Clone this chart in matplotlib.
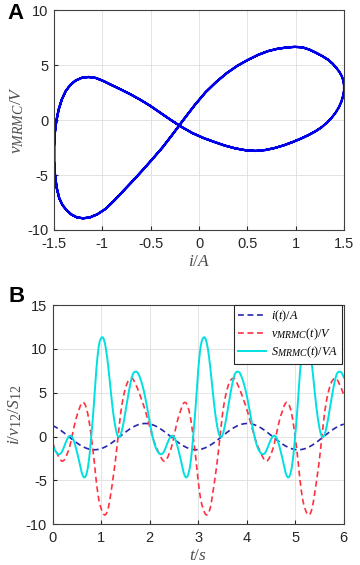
import numpy as np
import matplotlib; matplotlib.use("Agg")
import matplotlib.pyplot as plt
import matplotlib._mathtext as mtext

mtext.SHRINK_FACTOR = 0.8   # MATLAB-style subscripts are only a little smaller

plt.rcParams.update({
    "font.family": ["Liberation Sans", "DejaVu Sans"], "font.size": 10.5,
    "mathtext.fontset": "custom", "mathtext.rm": "Liberation Serif",
    "mathtext.it": "Liberation Serif:italic", "mathtext.bf": "Liberation Serif:bold",
    "axes.linewidth": 0.8, "axes.edgecolor": "0.25",
    "xtick.direction": "in", "ytick.direction": "in",
    "xtick.major.size": 3, "ytick.major.size": 3,
    "xtick.major.pad": 5, "ytick.major.pad": 4,
    "xtick.color": "0.15", "ytick.color": "0.15",
    "grid.color": "0.87", "grid.linewidth": 0.6,
})

t = np.linspace(0, 6, 241)

i_t = [
    1.264, 1.200, 1.130, 1.053, 0.970, 0.882, 0.788, 0.690, 0.588, 0.483, 0.376, 0.266,
    0.157, 0.045, -0.068, -0.180, -0.289, -0.398, -0.506, -0.610, -0.711, -0.808, -0.901, -0.988,
    -1.068, -1.144, -1.214, -1.276, -1.332, -1.380, -1.419, -1.452, -1.476, -1.492, -1.499, -1.499,
    -1.489, -1.472, -1.446, -1.412, -1.370, -1.321, -1.264, -1.200, -1.130, -1.053, -0.970, -0.882,
    -0.788, -0.690, -0.588, -0.486, -0.378, -0.268, -0.157, -0.045, 0.068, 0.180, 0.289, 0.398,
    0.506, 0.610, 0.711, 0.808, 0.901, 0.988, 1.068, 1.144, 1.214, 1.276, 1.332, 1.380,
    1.419, 1.452, 1.476, 1.492, 1.499, 1.499, 1.489, 1.472, 1.446, 1.412, 1.370, 1.321,
    1.264, 1.200, 1.130, 1.053, 0.970, 0.882, 0.788, 0.690, 0.588, 0.483, 0.376, 0.266,
    0.157, 0.045, -0.068, -0.180, -0.289, -0.398, -0.506, -0.610, -0.711, -0.808, -0.901, -0.988,
    -1.068, -1.144, -1.214, -1.276, -1.332, -1.380, -1.419, -1.452, -1.476, -1.492, -1.499, -1.499,
    -1.489, -1.472, -1.446, -1.412, -1.370, -1.321, -1.264, -1.200, -1.130, -1.053, -0.970, -0.882,
    -0.788, -0.690, -0.588, -0.486, -0.378, -0.268, -0.157, -0.045, 0.068, 0.180, 0.289, 0.398,
    0.506, 0.610, 0.711, 0.808, 0.901, 0.988, 1.068, 1.144, 1.214, 1.276, 1.332, 1.380,
    1.419, 1.452, 1.476, 1.492, 1.499, 1.499, 1.489, 1.472, 1.446, 1.412, 1.370, 1.321,
    1.264, 1.200, 1.130, 1.053, 0.970, 0.882, 0.788, 0.690, 0.588, 0.483, 0.376, 0.266,
    0.157, 0.045, -0.068, -0.180, -0.289, -0.398, -0.506, -0.610, -0.711, -0.808, -0.901, -0.988,
    -1.068, -1.144, -1.214, -1.276, -1.332, -1.380, -1.419, -1.452, -1.476, -1.492, -1.499, -1.499,
    -1.489, -1.472, -1.446, -1.412, -1.370, -1.321, -1.264, -1.200, -1.130, -1.053, -0.970, -0.882,
    -0.788, -0.690, -0.588, -0.486, -0.378, -0.268, -0.157, -0.045, 0.068, 0.180, 0.289, 0.398,
    0.506, 0.610, 0.711, 0.808, 0.901, 0.988, 1.068, 1.144, 1.214, 1.276, 1.332, 1.380,
    1.419]

v_t = [
    -0.67, -1.04, -1.37, -1.69, -1.99, -2.28, -2.53, -2.72, -2.81, -2.75, -2.58, -2.32,
    -1.99, -1.63, -1.19, -0.63, -0.01, 0.65, 1.30, 1.86, 2.35, 2.78, 3.17, 3.55,
    3.83, 3.92, 3.84, 3.60, 3.19, 2.62, 1.88, 0.95, -0.10, -1.21, -2.40, -3.74,
    -5.05, -6.17, -7.10, -7.74, -8.20, -8.59, -8.85, -8.94, -8.86, -8.58, -8.10, -7.37,
    -6.50, -5.58, -4.60, -3.59, -2.49, -1.23, 0.08, 1.36, 2.54, 3.49, 4.29, 4.95,
    5.48, 5.93, 6.27, 6.48, 6.60, 6.66, 6.62, 6.40, 6.10, 5.81, 5.50, 5.14,
    4.75, 4.37, 3.98, 3.58, 3.15, 2.69, 2.20, 1.69, 1.17, 0.68, 0.20, -0.25,
    -0.67, -1.04, -1.37, -1.69, -1.99, -2.28, -2.53, -2.72, -2.81, -2.75, -2.58, -2.32,
    -1.99, -1.63, -1.19, -0.63, -0.01, 0.65, 1.30, 1.86, 2.35, 2.78, 3.17, 3.55,
    3.83, 3.92, 3.84, 3.60, 3.19, 2.62, 1.88, 0.95, -0.10, -1.21, -2.40, -3.74,
    -5.05, -6.17, -7.10, -7.74, -8.20, -8.59, -8.85, -8.94, -8.86, -8.58, -8.10, -7.37,
    -6.50, -5.58, -4.60, -3.59, -2.49, -1.23, 0.08, 1.36, 2.54, 3.49, 4.29, 4.95,
    5.48, 5.93, 6.27, 6.48, 6.60, 6.66, 6.62, 6.40, 6.10, 5.81, 5.50, 5.14,
    4.75, 4.37, 3.98, 3.58, 3.15, 2.69, 2.20, 1.69, 1.17, 0.68, 0.20, -0.25,
    -0.67, -1.04, -1.37, -1.69, -1.99, -2.28, -2.53, -2.72, -2.81, -2.75, -2.58, -2.32,
    -1.99, -1.63, -1.19, -0.63, -0.01, 0.65, 1.30, 1.86, 2.35, 2.78, 3.17, 3.55,
    3.83, 3.92, 3.84, 3.60, 3.19, 2.62, 1.88, 0.95, -0.10, -1.21, -2.40, -3.74,
    -5.05, -6.17, -7.10, -7.74, -8.20, -8.59, -8.85, -8.94, -8.86, -8.58, -8.10, -7.37,
    -6.50, -5.58, -4.60, -3.59, -2.49, -1.23, 0.08, 1.36, 2.54, 3.49, 4.29, 4.95,
    5.48, 5.93, 6.27, 6.48, 6.60, 6.66, 6.62, 6.40, 6.10, 5.81, 5.50, 5.14,
    4.75]

s_t = [
    -0.85, -1.25, -1.55, -1.78, -1.93, -2.01, -1.99, -1.88, -1.65, -1.33, -0.97, -0.62,
    -0.31, -0.07, 0.08, 0.11, 0.00, -0.26, -0.66, -1.13, -1.67, -2.25, -2.86, -3.51,
    -4.09, -4.48, -4.66, -4.59, -4.25, -3.62, -2.67, -1.38, 0.15, 1.81, 3.60, 5.61,
    7.52, 9.08, 10.27, 10.93, 11.23, 11.35, 11.19, 10.73, 10.01, 9.03, 7.86, 6.50,
    5.12, 3.85, 2.70, 1.74, 0.94, 0.33, -0.01, -0.06, 0.17, 0.63, 1.24, 1.97,
    2.77, 3.62, 4.46, 5.24, 5.95, 6.58, 7.07, 7.32, 7.41, 7.41, 7.33, 7.09,
    6.74, 6.35, 5.87, 5.34, 4.72, 4.03, 3.28, 2.49, 1.69, 0.96, 0.27, -0.33,
    -0.85, -1.25, -1.55, -1.78, -1.93, -2.01, -1.99, -1.88, -1.65, -1.33, -0.97, -0.62,
    -0.31, -0.07, 0.08, 0.11, 0.00, -0.26, -0.66, -1.13, -1.67, -2.25, -2.86, -3.51,
    -4.09, -4.48, -4.66, -4.59, -4.25, -3.62, -2.67, -1.38, 0.15, 1.81, 3.60, 5.61,
    7.52, 9.08, 10.27, 10.93, 11.23, 11.35, 11.19, 10.73, 10.01, 9.03, 7.86, 6.50,
    5.12, 3.85, 2.70, 1.74, 0.94, 0.33, -0.01, -0.06, 0.17, 0.63, 1.24, 1.97,
    2.77, 3.62, 4.46, 5.24, 5.95, 6.58, 7.07, 7.32, 7.41, 7.41, 7.33, 7.09,
    6.74, 6.35, 5.87, 5.34, 4.72, 4.03, 3.28, 2.49, 1.69, 0.96, 0.27, -0.33,
    -0.85, -1.25, -1.55, -1.78, -1.93, -2.01, -1.99, -1.88, -1.65, -1.33, -0.97, -0.62,
    -0.31, -0.07, 0.08, 0.11, 0.00, -0.26, -0.66, -1.13, -1.67, -2.25, -2.86, -3.51,
    -4.09, -4.48, -4.66, -4.59, -4.25, -3.62, -2.67, -1.38, 0.15, 1.81, 3.60, 5.61,
    7.52, 9.08, 10.27, 10.93, 11.23, 11.35, 11.19, 10.73, 10.01, 9.03, 7.86, 6.50,
    5.12, 3.85, 2.70, 1.74, 0.94, 0.33, -0.01, -0.06, 0.17, 0.63, 1.24, 1.97,
    2.77, 3.62, 4.46, 5.24, 5.95, 6.58, 7.07, 7.32, 7.41, 7.41, 7.33, 7.09,
    6.74]

fig = plt.figure(figsize=(3.6, 5.65), dpi=100)
axA = fig.add_axes([0.150, 0.593, 0.806, 0.389])
axB = fig.add_axes([0.146, 0.072, 0.809, 0.388])

# --- A: v-i pinched loop
axA.plot(i_t, v_t, color="#0000e8", lw=1.6)
axA.set_xlim(-1.5, 1.5); axA.set_ylim(-10, 10)
axA.set_xticks([-1.5, -1, -0.5, 0, 0.5, 1, 1.5])
axA.set_xticklabels(["-1.5", "-1", "-0.5", "0", "0.5", "1", "1.5"])
axA.set_yticks([-10, -5, 0, 5, 10])
axA.set_yticklabels(["-10", "-5", "0", "5", "10"])
axA.grid(True)
axA.set_xlabel(r"$i/A$", fontsize=12.5, color="0.3", labelpad=2)
axA.set_ylabel(r"$v_{MRMC}/V$", fontsize=12.5, color="0.3", labelpad=1)

# --- B: time traces
axB.plot(t, i_t, color="#2626b0", lw=1.2, dashes=(3.5, 2.2), label=r"$i(t)/A$")
axB.plot(t, v_t, color="#ff3040", lw=1.2, dashes=(3.5, 2.2), label=r"$v_{MRMC}(t)/V$")
axB.plot(t, s_t, color="#00e0e0", lw=1.4, label=r"$S_{MRMC}(t)/VA$")
axB.set_xlim(0, 6); axB.set_ylim(-10, 15)
axB.set_xticks(range(0, 7))
axB.set_yticks([-10, -5, 0, 5, 10, 15])
axB.set_yticklabels(["-10", "-5", "0", "5", "10", "15"])
axB.grid(True)
axB.set_xlabel(r"$t/s$", fontsize=12.5, color="0.3", labelpad=2)
axB.set_ylabel(r"$i/v_{12}/S_{12}$", fontsize=12.5, color="0.3", labelpad=1)
leg = axB.legend(loc="upper right", bbox_to_anchor=(0.993, 1.0), fontsize=8.8,
                 frameon=True, fancybox=False, edgecolor="0.15", framealpha=1,
                 borderaxespad=0.0, labelspacing=0.2, handlelength=2.3,
                 handletextpad=0.4, borderpad=0.3)
leg.get_frame().set_linewidth(0.8)

fig.text(7 / 360, 1 - 3 / 565, "A", fontsize=16, fontweight="bold", va="top", ha="left")
fig.text(9 / 360, 1 - 286 / 565, "B", fontsize=16, fontweight="bold", va="top", ha="left")

fig.savefig("out.png", dpi=100)
